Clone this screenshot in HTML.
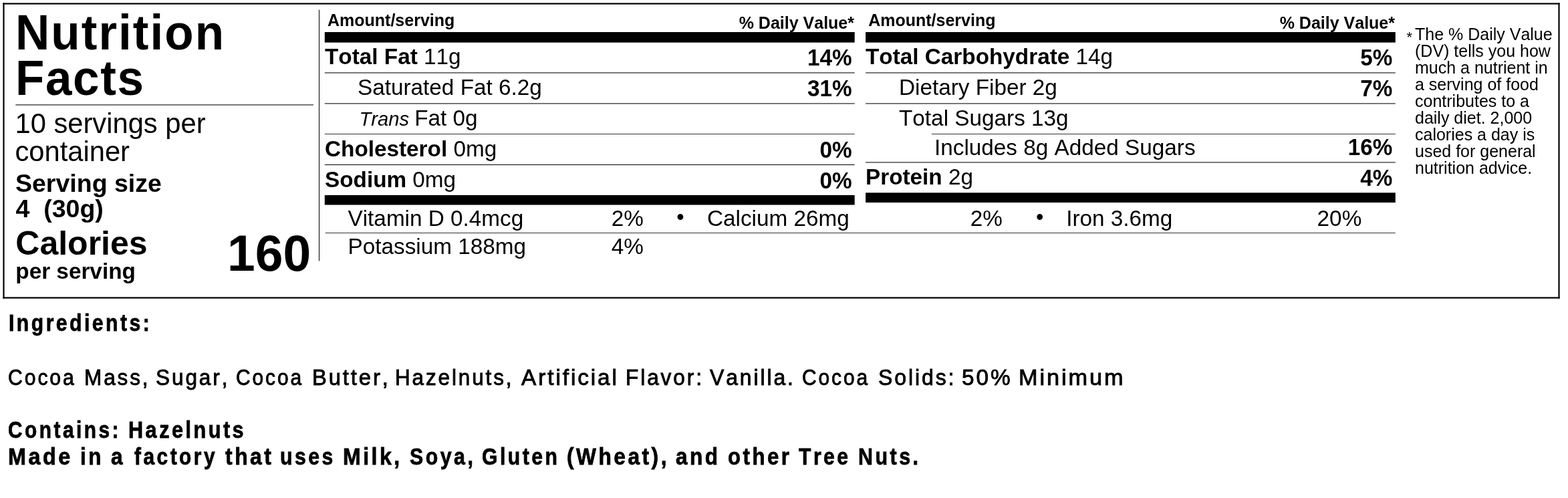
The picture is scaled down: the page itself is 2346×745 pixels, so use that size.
<!DOCTYPE html>
<html lang="en">
<head>
<meta charset="utf-8">
<title>Nutrition Facts</title>
<style>
html,body{margin:0;padding:0;background:#fff;}
body{width:2346px;height:745px;overflow:hidden;position:relative;font-family:"Liberation Sans",Arial,Helvetica,sans-serif;color:#000;font-kerning:none;}
#label{position:absolute;left:0;top:0;width:2346px;height:745px;overflow:hidden;}
#rules{position:absolute;left:0;top:0;}
.t{position:absolute;white-space:nowrap;line-height:1;margin:0;padding:0;font-weight:400;transform-origin:0 84.668%;}
.t.r{transform-origin:100% 84.668%;}
.b,.t b{font-weight:700;}
.t i{font-style:italic;}
.ing{position:absolute;left:0;margin:0;padding:0;height:0;width:2346px;white-space:nowrap;line-height:1;font-weight:400;}
.ing.b{font-weight:700;}
.ing span{position:absolute;top:0;transform-origin:0 0;}
</style>
</head>
<body>
<div id="label">
<svg id="rules" width="2346" height="745" viewBox="0 0 2346 745" aria-hidden="true">
<rect x="4.4" y="4.4" width="2329.2" height="2.2" fill="#000"/>
<rect x="4.4" y="444.4" width="2329.2" height="2.2" fill="#000"/>
<rect x="4.4" y="4.4" width="2.2" height="442.2" fill="#000"/>
<rect x="2331.4" y="4.4" width="2.2" height="442.2" fill="#000"/>
<rect x="477" y="14.6" width="1" height="375.8" fill="#000"/>
<rect x="23.3" y="156.41" width="445.6" height="1.04" fill="#000"/>
<rect x="485.8" y="48" width="792.9" height="15.6" fill="#000"/>
<rect x="1295.1" y="48" width="792.7" height="15.6" fill="#000"/>
<rect x="485.8" y="291.9" width="792.9" height="14.6" fill="#000"/>
<rect x="1295.1" y="288.3" width="792.7" height="14.7" fill="#000"/>
<rect x="485.8" y="108.41" width="792.9" height="1.04" fill="#000"/>
<rect x="485.8" y="154.41" width="792.9" height="1.04" fill="#000"/>
<rect x="485.8" y="200.1" width="792.9" height="0.8" fill="#000"/>
<rect x="485.8" y="246" width="792.9" height="1" fill="#000"/>
<rect x="1295.1" y="108.41" width="792.7" height="1.04" fill="#000"/>
<rect x="1295.1" y="154.41" width="792.7" height="1.04" fill="#000"/>
<rect x="1393.9" y="200.1" width="693.9" height="0.8" fill="#000"/>
<rect x="1295.1" y="242.41" width="792.7" height="1.04" fill="#000"/>
<rect x="486.8" y="348.1" width="1601" height="0.8" fill="#000"/>
</svg>
<div class="t b" id="t1" style="left:23px;top:14px;font-size:71px;letter-spacing:2.04px;transform:scale(1,1.035);transform-origin:0 60px">Nutrition</div>
<div class="t b" id="t2" style="left:23px;top:82px;font-size:71px;letter-spacing:1.62px;transform:scale(1,1.035);transform-origin:0 60px">Facts</div>
<div class="t" id="s1" style="left:22.5px;top:164px;font-size:41.7px">10 servings per</div>
<div class="t" id="s2" style="left:22.5px;top:206px;font-size:41.7px">container</div>
<div class="t b" id="s3" style="left:23px;top:256px;font-size:37.5px">Serving size</div>
<div class="t b" id="s4" style="left:23.5px;top:294px;font-size:37.5px">4&nbsp; (30g)</div>
<div class="t b" id="c1" style="left:23.3px;top:339px;font-size:50px">Calories</div>
<div class="t b" id="c2" style="left:23.3px;top:389px;font-size:33.3px">per serving</div>
<div class="t b" id="c3" style="left:340px;top:342px;font-size:75px;transform:scale(1,1.02);transform-origin:0 63px">160</div>
<div class="t b" id="h1" style="left:490px;top:18px;font-size:25px">Amount/serving</div>
<div class="t b r" id="h2" style="right:1068px;top:22px;font-size:25px">% Daily Value*</div>
<div class="t" id="m1" style="left:486px;top:68px;font-size:33.3px"><b>Total Fat</b> 11g</div>
<div class="t b r" id="m1p" style="right:1071.4px;top:70px;font-size:33.3px;transform:scale(1,1.06);transform-origin:100% 28px">14%</div>
<div class="t" id="m2" style="left:535px;top:114px;font-size:33.3px">Saturated Fat 6.2g</div>
<div class="t b r" id="m2p" style="right:1071.4px;top:116px;font-size:33.3px;transform:scale(1,1.06);transform-origin:100% 28px">31%</div>
<div class="t" id="m3" style="left:537.5px;top:160px;font-size:33.3px"><i style="font-size:29.17px">Trans </i>Fat 0g</div>
<div class="t" id="m4" style="left:486px;top:206px;font-size:33.3px"><b>Cholesterol</b> 0mg</div>
<div class="t b r" id="m4p" style="right:1071.4px;top:208px;font-size:33.3px;transform:scale(1,1.06);transform-origin:100% 28px">0%</div>
<div class="t" id="m5" style="left:486px;top:252px;font-size:33.3px"><b>Sodium</b> 0mg</div>
<div class="t b r" id="m5p" style="right:1071.4px;top:254px;font-size:33.3px;transform:scale(1,1.06);transform-origin:100% 28px">0%</div>
<div class="t" id="v1" style="left:520.5px;top:310px;font-size:33.3px">Vitamin D 0.4mcg</div>
<div class="t" id="v1p" style="left:914.7px;top:310px;font-size:33.3px">2%</div>
<div class="t" id="v1d" style="left:1012.2px;top:309px;font-size:32.5px">&bull;</div>
<div class="t" id="v2" style="left:1058px;top:310px;font-size:33.3px">Calcium 26mg</div>
<div class="t" id="v2p" style="left:1451.7px;top:310px;font-size:33.3px">2%</div>
<div class="t" id="v2d" style="left:1549.9px;top:309px;font-size:32.5px">&bull;</div>
<div class="t" id="v3" style="left:1595.2px;top:310px;font-size:33.3px">Iron 3.6mg</div>
<div class="t" id="v3p" style="left:1970.6px;top:310px;font-size:33.3px">20%</div>
<div class="t" id="v4" style="left:520.5px;top:352px;font-size:33.3px">Potassium 188mg</div>
<div class="t" id="v4p" style="left:914.7px;top:352px;font-size:33.3px">4%</div>
<div class="t b" id="h3" style="left:1299.2px;top:18px;font-size:25px">Amount/serving</div>
<div class="t b r" id="h4" style="right:259px;top:22px;font-size:25px">% Daily Value*</div>
<div class="t" id="r1" style="left:1295px;top:68px;font-size:33.3px"><b>Total Carbohydrate</b> 14g</div>
<div class="t b r" id="r1p" style="right:262.7px;top:70px;font-size:33.3px;transform:scale(1,1.06);transform-origin:100% 28px">5%</div>
<div class="t" id="r2" style="left:1345px;top:114px;font-size:33.3px">Dietary Fiber 2g</div>
<div class="t b r" id="r2p" style="right:262.7px;top:116px;font-size:33.3px;transform:scale(1,1.06);transform-origin:100% 28px">7%</div>
<div class="t" id="r3" style="left:1345px;top:160px;font-size:33.3px">Total Sugars 13g</div>
<div class="t" id="r4" style="left:1398px;top:204px;font-size:33.3px">Includes 8g Added Sugars</div>
<div class="t b r" id="r4p" style="right:262.7px;top:204px;font-size:33.3px;transform:scale(1,1.06);transform-origin:100% 28px">16%</div>
<div class="t" id="r5" style="left:1295px;top:248px;font-size:33.3px"><b>Protein</b> 2g</div>
<div class="t b r" id="r5p" style="right:262.7px;top:250px;font-size:33.3px;transform:scale(1,1.06);transform-origin:100% 28px">4%</div>
<div class="t" id="f0" style="left:2104.6px;top:45px;font-size:22px">*</div>
<div class="t" id="f1" style="left:2117px;top:39px;font-size:25px">The % Daily Value</div>
<div class="t" id="f2" style="left:2117px;top:64px;font-size:25px">(DV) tells you how</div>
<div class="t" id="f3" style="left:2117px;top:89px;font-size:25px">much a nutrient in</div>
<div class="t" id="f4" style="left:2117px;top:114px;font-size:25px">a serving of food</div>
<div class="t" id="f5" style="left:2117px;top:139px;font-size:25px">contributes to a</div>
<div class="t" id="f6" style="left:2117px;top:164px;font-size:25px">daily diet. 2,000</div>
<div class="t" id="f7" style="left:2117px;top:189px;font-size:25px">calories a day is</div>
<div class="t" id="f8" style="left:2117px;top:214px;font-size:25px">used for general</div>
<div class="t" id="f9" style="left:2117px;top:239px;font-size:25px">nutrition advice.</div>
<h2 class="ing b" id="i1" style="top:466px;font-size:35.5px;-webkit-text-stroke:0.8px #000"><span style="left:12.94px;letter-spacing:4.128px;transform:scaleX(0.8478)">Ingredients:</span></h2>
<p class="ing" id="i2" style="top:548px;font-size:33.4px;-webkit-text-stroke:0.9px #000"><span style="left:11.92px;letter-spacing:3.209px;transform:scaleX(0.9038)">Cocoa</span> <span style="left:125.73px;letter-spacing:3.074px;transform:scaleX(0.9434)">Mass,</span> <span style="left:233.14px;letter-spacing:3.07px;transform:scaleX(0.9447)">Sugar,</span> <span style="left:352.75px;letter-spacing:3.233px;transform:scaleX(0.897)">Cocoa</span> <span style="left:467.06px;letter-spacing:2.957px;transform:scaleX(0.9807)">Butter,</span> <span style="left:591.44px;letter-spacing:3.081px;transform:scaleX(0.9413)">Hazelnuts,</span> <span style="left:780px;letter-spacing:2.899px;transform:scaleX(1.0003)">Artificial</span> <span style="left:935.9px;letter-spacing:3.064px;transform:scaleX(0.9465)">Flavor:</span> <span style="left:1062.41px;letter-spacing:3.036px;transform:scaleX(0.9552)">Vanilla.</span> <span style="left:1200.35px;letter-spacing:3.233px;transform:scaleX(0.897)">Cocoa</span> <span style="left:1314.2px;letter-spacing:3.026px;transform:scaleX(0.9585)">Solids:</span> <span style="left:1438.95px;letter-spacing:2.902px;transform:scaleX(0.9991)">50%</span> <span style="left:1523.58px;letter-spacing:2.825px;transform:scaleX(1.0267)">Minimum</span></p>
<p class="ing b" id="i3" style="top:626px;font-size:35.5px;-webkit-text-stroke:0.8px #000"><span style="left:11.72px;letter-spacing:4.168px;transform:scaleX(0.8398)">Contains:</span> <span style="left:191.51px;letter-spacing:4.058px;transform:scaleX(0.8626)">Hazelnuts</span></p>
<p class="ing b" id="i4" style="top:666px;font-size:35.5px;-webkit-text-stroke:0.8px #000"><span style="left:11.84px;letter-spacing:3.837px;transform:scaleX(0.9122)">Made</span> <span style="left:119.98px;letter-spacing:3.973px;transform:scaleX(0.8809)">in</span> <span style="left:166.24px;letter-spacing:3.934px;transform:scaleX(0.8897)">a</span> <span style="left:200.76px;letter-spacing:4.161px;transform:scaleX(0.8412)">factory</span> <span style="left:337.18px;letter-spacing:3.894px;transform:scaleX(0.8989)">that</span> <span style="left:419.43px;letter-spacing:4.116px;transform:scaleX(0.8504)">uses</span> <span style="left:513.03px;letter-spacing:3.875px;transform:scaleX(0.9033)">Milk,</span> <span style="left:612.97px;letter-spacing:4.103px;transform:scaleX(0.8531)">Soya,</span> <span style="left:721.12px;letter-spacing:4.123px;transform:scaleX(0.849)">Gluten</span> <span style="left:848.43px;letter-spacing:3.921px;transform:scaleX(0.8926)">(Wheat),</span> <span style="left:1011.06px;letter-spacing:3.943px;transform:scaleX(0.8876)">and</span> <span style="left:1089.33px;letter-spacing:3.99px;transform:scaleX(0.8772)">other</span> <span style="left:1195.4px;letter-spacing:4.13px;transform:scaleX(0.8475)">Tree</span> <span style="left:1284.15px;letter-spacing:4.084px;transform:scaleX(0.8571)">Nuts.</span></p>
</div>
</body>
</html>
